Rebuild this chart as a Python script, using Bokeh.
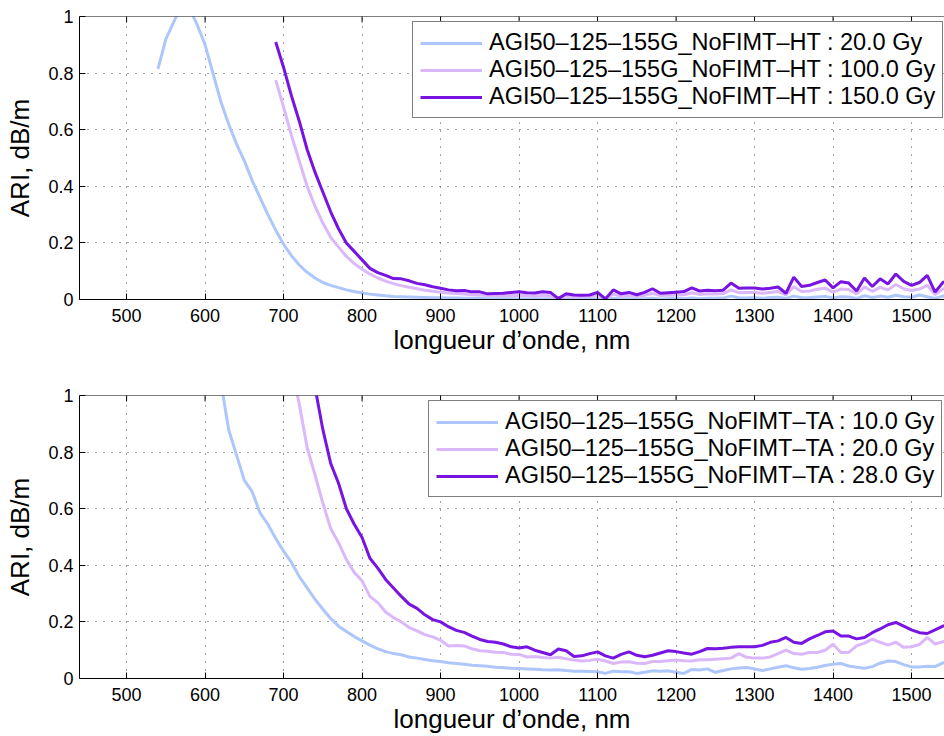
import math
from bokeh.plotting import figure
from bokeh.layouts import column
from bokeh.models import Range1d, FixedTicker, Span
from bokeh.embed import file_html
from bokeh.resources import INLINE

# ---------------- data ----------------
x_ticks = [500, 600, 700, 800, 900, 1000, 1100, 1200, 1300, 1400, 1500]
y_ticks = [0, 0.2, 0.4, 0.6, 0.8, 1]

wl_ht20 = list(range(540, 1560, 10))
ari_ht20 = [0.815, 0.92, 0.98, 1.04, 1.03, 0.97, 0.90, 0.80, 0.70, 0.62,
            0.55, 0.49, 0.42, 0.36, 0.30, 0.245, 0.195, 0.155, 0.122, 0.096,
            0.076, 0.060, 0.050, 0.042, 0.034, 0.028, 0.023, 0.019, 0.016, 0.013,
            0.011, 0.010, 0.009, 0.008, 0.007, 0.006, 0.006, 0.005, 0.005, 0.004,
            0.004, 0.004, 0.003, 0.003, 0.003, 0.003, 0.003, 0.002, 0.003, 0.002,
            0.003, 0.002, 0.002, 0.003, 0.002, 0.002, 0.003, 0.001, 0.004, 0.002,
            0.003, 0.002, 0.003, 0.004, 0.002, 0.003, 0.004, 0.003, 0.005, 0.003,
            0.004, 0.004, 0.005, 0.012, 0.006, 0.005, 0.006, 0.004, 0.007, 0.008,
            0.004, 0.012, 0.006, 0.007, 0.009, 0.011, 0.005, 0.010, 0.009, 0.004,
            0.013, 0.007, 0.012, 0.008, 0.015, 0.010, 0.008, 0.016, 0.010, 0.004,
            0.012, 0.014]

wl_ht = list(range(690, 1560, 10))
ari_ht100 = [0.775, 0.68, 0.58, 0.49, 0.40, 0.33, 0.27, 0.22, 0.185, 0.152,
             0.127, 0.107, 0.090, 0.076, 0.065, 0.056, 0.049, 0.043, 0.038, 0.033,
             0.029, 0.026, 0.023, 0.021, 0.019, 0.017, 0.016, 0.014, 0.014, 0.013,
             0.014, 0.015, 0.013, 0.012, 0.014, 0.013, 0.006, 0.012, 0.010, 0.010,
             0.011, 0.014, 0.005, 0.019, 0.012, 0.014, 0.011, 0.015, 0.022, 0.014,
             0.015, 0.016, 0.017, 0.024, 0.018, 0.020, 0.019, 0.021, 0.034, 0.024,
             0.025, 0.025, 0.022, 0.025, 0.028, 0.016, 0.045, 0.028, 0.030, 0.036,
             0.040, 0.026, 0.037, 0.035, 0.020, 0.044, 0.029, 0.043, 0.034, 0.053,
             0.038, 0.032, 0.037, 0.050, 0.018, 0.037, 0.042]
ari_ht150 = [0.91, 0.82, 0.72, 0.63, 0.53, 0.45, 0.38, 0.31, 0.25, 0.20,
             0.17, 0.14, 0.11, 0.095, 0.085, 0.074, 0.073, 0.066, 0.057, 0.052,
             0.045, 0.040, 0.034, 0.031, 0.032, 0.027, 0.027, 0.020, 0.021, 0.022,
             0.025, 0.027, 0.024, 0.023, 0.027, 0.025, 0.003, 0.020, 0.016, 0.015,
             0.016, 0.025, 0.002, 0.034, 0.020, 0.025, 0.017, 0.025, 0.038, 0.022,
             0.024, 0.026, 0.028, 0.041, 0.030, 0.033, 0.031, 0.033, 0.058, 0.040,
             0.041, 0.041, 0.037, 0.040, 0.044, 0.022, 0.079, 0.046, 0.050, 0.060,
             0.069, 0.041, 0.063, 0.058, 0.030, 0.076, 0.046, 0.073, 0.055, 0.090,
             0.064, 0.050, 0.060, 0.085, 0.026, 0.060, 0.070]

wl_ta10 = list(range(620, 1560, 10))
ari_ta10 = [1.05, 0.88, 0.79, 0.70, 0.66, 0.585, 0.545, 0.495, 0.45, 0.41,
            0.36, 0.32, 0.28, 0.245, 0.212, 0.185, 0.166, 0.148, 0.133, 0.118,
            0.105, 0.095, 0.088, 0.084, 0.076, 0.072, 0.067, 0.063, 0.060, 0.056,
            0.053, 0.050, 0.047, 0.045, 0.043, 0.040, 0.038, 0.036, 0.035, 0.034,
            0.033, 0.031, 0.030, 0.031, 0.028, 0.026, 0.026, 0.025, 0.024, 0.018,
            0.026, 0.024, 0.024, 0.018, 0.022, 0.027, 0.026, 0.027, 0.022, 0.018,
            0.032, 0.030, 0.034, 0.022, 0.028, 0.034, 0.037, 0.039, 0.034, 0.028,
            0.034, 0.040, 0.045, 0.038, 0.033, 0.035, 0.040, 0.046, 0.050, 0.053,
            0.044, 0.040, 0.036, 0.042, 0.054, 0.062, 0.060, 0.049, 0.041, 0.041,
            0.043, 0.042, 0.055, 0.066]

wl_ta20 = list(range(710, 1560, 10))
ari_ta20 = [1.10, 0.97, 0.816, 0.72, 0.62, 0.53, 0.48, 0.42, 0.375, 0.345,
            0.29, 0.268, 0.235, 0.215, 0.200, 0.180, 0.168, 0.155, 0.147, 0.135,
            0.115, 0.117, 0.115, 0.105, 0.098, 0.096, 0.093, 0.092, 0.086, 0.085,
            0.076, 0.078, 0.074, 0.072, 0.075, 0.070, 0.065, 0.062, 0.064, 0.068,
            0.062, 0.053, 0.058, 0.059, 0.054, 0.053, 0.060, 0.060, 0.063, 0.065,
            0.063, 0.062, 0.066, 0.066, 0.068, 0.070, 0.072, 0.088, 0.075, 0.072,
            0.072, 0.076, 0.088, 0.100, 0.088, 0.086, 0.092, 0.092, 0.100, 0.121,
            0.092, 0.092, 0.115, 0.125, 0.139, 0.128, 0.118, 0.128, 0.110, 0.112,
            0.120, 0.145, 0.122, 0.130, 0.135]

wl_ta28 = list(range(740, 1560, 10))
ari_ta28 = [1.03, 0.88, 0.76, 0.69, 0.60, 0.545, 0.498, 0.425, 0.39, 0.35,
            0.32, 0.29, 0.263, 0.248, 0.225, 0.208, 0.200, 0.183, 0.170, 0.163,
            0.150, 0.138, 0.131, 0.128, 0.122, 0.112, 0.108, 0.112, 0.100, 0.092,
            0.084, 0.104, 0.098, 0.078, 0.080, 0.088, 0.094, 0.080, 0.072, 0.085,
            0.094, 0.082, 0.077, 0.082, 0.090, 0.098, 0.095, 0.090, 0.086, 0.095,
            0.106, 0.105, 0.107, 0.110, 0.112, 0.112, 0.112, 0.117, 0.128, 0.133,
            0.145, 0.128, 0.124, 0.140, 0.152, 0.165, 0.168, 0.150, 0.150, 0.140,
            0.145, 0.162, 0.175, 0.190, 0.198, 0.185, 0.172, 0.162, 0.159, 0.172,
            0.185, 0.195]

top_labels = ["AGI50–125–155G_NoFIMT–HT : 20.0 Gy",
              "AGI50–125–155G_NoFIMT–HT : 100.0 Gy",
              "AGI50–125–155G_NoFIMT–HT : 150.0 Gy"]
bottom_labels = ["AGI50–125–155G_NoFIMT–TA : 10.0 Gy",
                 "AGI50–125–155G_NoFIMT–TA : 20.0 Gy",
                 "AGI50–125–155G_NoFIMT–TA : 28.0 Gy"]

colors = ["#adc6fb", "#dbb8fa", "#7814e1"]
FONT = "Liberation Sans"


def make_fig(series, labels, height, top_border, bottom_border, legend_xy):
    p = figure(width=944, height=height, output_backend="svg", toolbar_location=None,
               x_range=Range1d(440, 1542), y_range=Range1d(0, 1),
               min_border_left=79, min_border_right=0,
               min_border_top=top_border, min_border_bottom=bottom_border)
    p.outline_line_color = None
    p.background_fill_color = "white"

    p.xgrid.ticker = FixedTicker(ticks=x_ticks)
    p.ygrid.ticker = FixedTicker(ticks=y_ticks)
    p.grid.grid_line_color = "#444444"
    p.grid.grid_line_dash = "1 7"
    p.grid.grid_line_width = 1

    for (xs, ys), lab, c in zip(series, labels, colors):
        p.line(xs, ys, line_color=c, line_width=3, legend_label=lab)

    # box top edge with inward ticks (MATLAB style)
    p.add_layout(Span(location=1, dimension="width", line_color="black", line_width=1))
    p.scatter(x_ticks, [1] * len(x_ticks), marker="dash", angle=math.pi / 2,
              size=12, line_color="black", line_width=1)

    for ax in p.xaxis:
        ax.ticker = FixedTicker(ticks=x_ticks)
        ax.axis_label = "longueur d’onde, nm"
        ax.major_label_standoff = 9
        ax.axis_label_standoff = 0
    for ax in p.yaxis:
        ax.ticker = FixedTicker(ticks=y_ticks)
        ax.major_label_overrides = {0: "0", 1: "1"}
        ax.axis_label = "ARI, dB/m"
        ax.major_label_standoff = 6
        ax.axis_label_standoff = 10

    for ax in list(p.xaxis) + list(p.yaxis):
        ax.axis_line_color = "black"
        ax.axis_line_width = 1
        ax.major_tick_in = 6
        ax.major_tick_out = 0
        ax.major_tick_line_color = "black"
        ax.minor_tick_line_color = None
        ax.major_label_text_font = FONT
        ax.major_label_text_font_size = "18px"
        ax.major_label_text_color = "black"
        ax.major_label_text_line_height = 1.0
        ax.axis_label_text_font = FONT
        ax.axis_label_text_font_size = "26px"
        ax.axis_label_text_font_style = "normal"
        ax.axis_label_text_color = "black"
        ax.axis_label_text_line_height = 1.0

    lg = p.legend[0]
    lg.location = legend_xy
    lg.margin = 0
    lg.padding = 7
    lg.spacing = 0
    lg.border_line_color = "black"
    lg.border_line_width = 1
    lg.background_fill_alpha = 1
    lg.glyph_width = 62
    lg.glyph_height = 20
    lg.label_height = 20
    lg.label_standoff = 7
    lg.label_text_font = FONT
    lg.label_text_font_size = "23.5px"
    lg.label_text_color = "black"
    return p


p1 = make_fig([(wl_ht20, ari_ht20), (wl_ht, ari_ht100), (wl_ht, ari_ht150)],
              top_labels, 360, 16, 61, (333, 181))
p2 = make_fig([(wl_ta10, ari_ta10), (wl_ta20, ari_ta20), (wl_ta28, ari_ta28)],
              bottom_labels, 376, 35, 58, (349, 181))

layout = column(p1, p2, spacing=0)
open("out.html", "w").write(file_html(layout, INLINE))
